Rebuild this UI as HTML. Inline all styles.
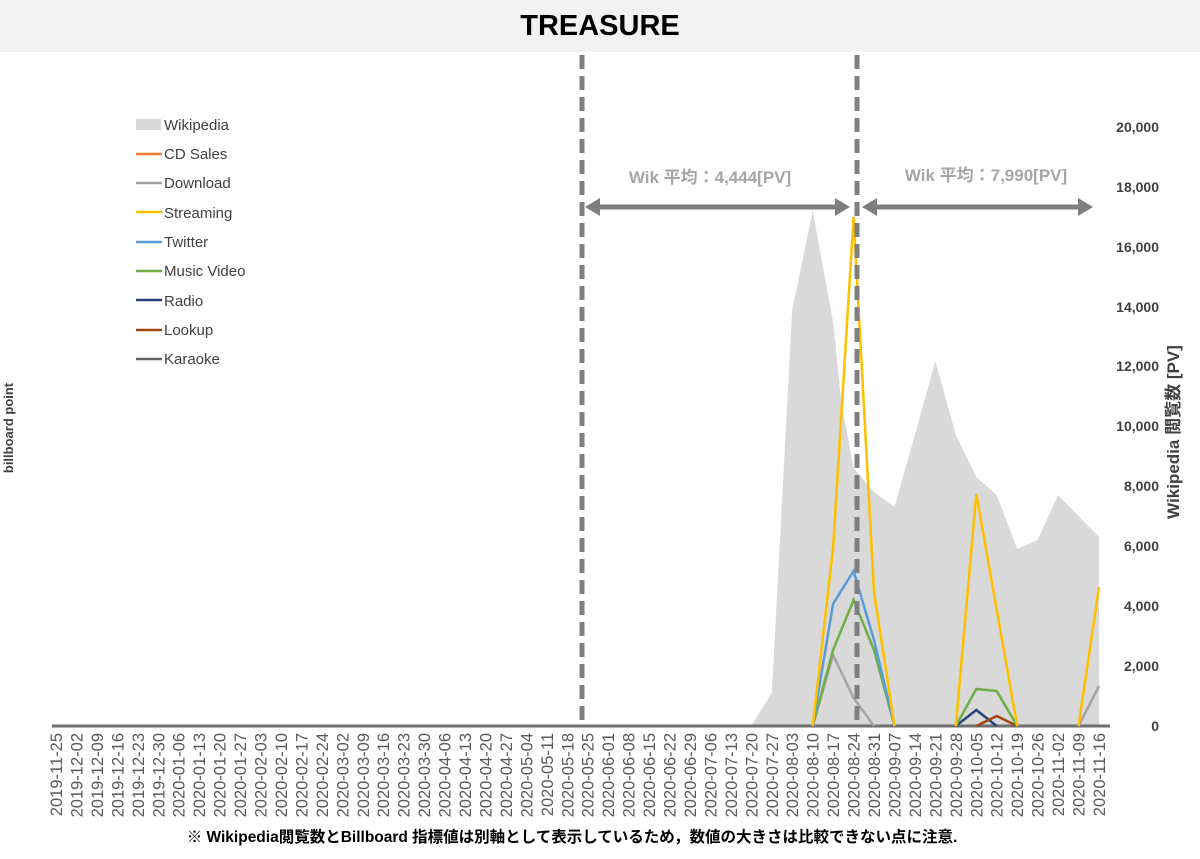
<!DOCTYPE html>
<html><head><meta charset="utf-8"><style>
html,body{margin:0;padding:0;background:#fff;}
svg{display:block;font-family:"Liberation Sans","Noto Sans CJK JP",sans-serif;}
</style></head><body>
<svg width="1200" height="859" viewBox="0 0 1200 859" xmlns="http://www.w3.org/2000/svg">
<rect x="0" y="0" width="1200" height="52" fill="#f2f2f2"/>
<text x="600" y="35" text-anchor="middle" font-size="29" font-weight="bold" fill="#000">TREASURE</text>
<polygon fill="#d9d9d9" points="751.3,726 771.8,693 792.2,310 812.7,211 833.1,322 841,400 853.6,468 874,492 894.5,507 914.9,435 935.4,361 955.8,435 976.3,477 996.7,495 1017.2,549 1037.6,540 1058.1,495 1078.5,516 1099,537 1099,726"/>
<line x1="52" y1="726" x2="1110" y2="726" stroke="#6e6e6e" stroke-width="3"/>
<polyline fill="none" stroke="#a5a5a5" stroke-width="2.5" points="812.7,726 833.1,655 853.6,698 874,726"/>
<polyline fill="none" stroke="#a5a5a5" stroke-width="2.5" points="1078.5,726 1099,686"/>
<polyline fill="none" stroke="#264478" stroke-width="2.5" points="955.8,726 976.3,710 996.7,726"/>
<polyline fill="none" stroke="#9e480e" stroke-width="2.5" points="976.3,726 996.7,716 1017.2,726"/>
<polyline fill="none" stroke="#70ad47" stroke-width="2.5" points="812.7,726 833.1,650 853.6,600 874,650 894.5,726"/>
<polyline fill="none" stroke="#70ad47" stroke-width="2.5" points="955.8,726 976.3,689 996.7,691 1017.2,726"/>
<polyline fill="none" stroke="#5b9bd5" stroke-width="2.5" points="812.7,726 833.1,604 853.6,571 874,640 894.5,726"/>
<polyline fill="none" stroke="#ffc000" stroke-width="2.5" points="812.7,726 833.1,548 853.6,217 874,592 894.5,726"/>
<polyline fill="none" stroke="#ffc000" stroke-width="2.5" points="955.8,726 976.3,494 1017.2,726"/>
<polyline fill="none" stroke="#ffc000" stroke-width="2.5" points="1078.5,726 1099,587"/>
<line x1="582" y1="55" x2="582" y2="726" stroke="#7f7f7f" stroke-width="5" stroke-dasharray="14,7"/>
<line x1="857" y1="55" x2="857" y2="726" stroke="#7f7f7f" stroke-width="5" stroke-dasharray="14,7"/>
<g fill="#7f7f7f" stroke="#7f7f7f">
<line x1="598" y1="207" x2="836" y2="207" stroke-width="5"/>
<polygon points="585,207 600,198 600,216" stroke="none"/>
<polygon points="850,207 835,198 835,216" stroke="none"/>
<line x1="876" y1="207" x2="1079" y2="207" stroke-width="5"/>
<polygon points="862,207 877,198 877,216" stroke="none"/>
<polygon points="1093,207 1078,198 1078,216" stroke="none"/>
</g>
<text x="710" y="183" text-anchor="middle" font-size="17" font-weight="bold" fill="#a6a6a6">Wik 平均：4,444[PV]</text>
<text x="986" y="181" text-anchor="middle" font-size="17" font-weight="bold" fill="#a6a6a6">Wik 平均：7,990[PV]</text>
<g font-size="15" fill="#404040">
<rect x="136" y="119" width="25" height="11" fill="#d9d9d9"/><text x="164" y="130">Wikipedia</text>
<line x1="136" y1="154" x2="162" y2="154" stroke="#ed7d31" stroke-width="2.5"/><text x="164" y="159">CD Sales</text>
<line x1="136" y1="183" x2="162" y2="183" stroke="#a5a5a5" stroke-width="2.5"/><text x="164" y="188">Download</text>
<line x1="136" y1="212" x2="162" y2="212" stroke="#ffc000" stroke-width="2.5"/><text x="164" y="218">Streaming</text>
<line x1="136" y1="242" x2="162" y2="242" stroke="#5b9bd5" stroke-width="2.5"/><text x="164" y="247">Twitter</text>
<line x1="136" y1="271" x2="162" y2="271" stroke="#70ad47" stroke-width="2.5"/><text x="164" y="276">Music Video</text>
<line x1="136" y1="300" x2="162" y2="300" stroke="#264478" stroke-width="2.5"/><text x="164" y="306">Radio</text>
<line x1="136" y1="330" x2="162" y2="330" stroke="#9e480e" stroke-width="2.5"/><text x="164" y="335">Lookup</text>
<line x1="136" y1="359" x2="162" y2="359" stroke="#636363" stroke-width="2.5"/><text x="164" y="364">Karaoke</text>
</g>
<g font-size="14" font-weight="bold" fill="#404040" text-anchor="end">
<text x="1159" y="731">0</text>
<text x="1159" y="671">2,000</text>
<text x="1159" y="611">4,000</text>
<text x="1159" y="551">6,000</text>
<text x="1159" y="491">8,000</text>
<text x="1159" y="431">10,000</text>
<text x="1159" y="371">12,000</text>
<text x="1159" y="312">14,000</text>
<text x="1159" y="252">16,000</text>
<text x="1159" y="192">18,000</text>
<text x="1159" y="132">20,000</text>
</g>
<text transform="translate(1179,432) rotate(-90)" text-anchor="middle" font-size="17" font-weight="bold" fill="#404040">Wikipedia 閲覧数 [PV]</text>
<text transform="translate(13,428) rotate(-90)" text-anchor="middle" font-size="13" font-weight="bold" fill="#404040">billboard point</text>
<g font-size="16.5" fill="#595959" text-anchor="end">
<text transform="translate(62,733) rotate(-90)">2019-11-25</text>
<text transform="translate(82.5,733) rotate(-90)">2019-12-02</text>
<text transform="translate(102.9,733) rotate(-90)">2019-12-09</text>
<text transform="translate(123.4,733) rotate(-90)">2019-12-16</text>
<text transform="translate(143.8,733) rotate(-90)">2019-12-23</text>
<text transform="translate(164.3,733) rotate(-90)">2019-12-30</text>
<text transform="translate(184.7,733) rotate(-90)">2020-01-06</text>
<text transform="translate(205.2,733) rotate(-90)">2020-01-13</text>
<text transform="translate(225.6,733) rotate(-90)">2020-01-20</text>
<text transform="translate(246.1,733) rotate(-90)">2020-01-27</text>
<text transform="translate(266.5,733) rotate(-90)">2020-02-03</text>
<text transform="translate(287,733) rotate(-90)">2020-02-10</text>
<text transform="translate(307.4,733) rotate(-90)">2020-02-17</text>
<text transform="translate(327.9,733) rotate(-90)">2020-02-24</text>
<text transform="translate(348.3,733) rotate(-90)">2020-03-02</text>
<text transform="translate(368.8,733) rotate(-90)">2020-03-09</text>
<text transform="translate(389.2,733) rotate(-90)">2020-03-16</text>
<text transform="translate(409.7,733) rotate(-90)">2020-03-23</text>
<text transform="translate(430.1,733) rotate(-90)">2020-03-30</text>
<text transform="translate(450.6,733) rotate(-90)">2020-04-06</text>
<text transform="translate(471,733) rotate(-90)">2020-04-13</text>
<text transform="translate(491.5,733) rotate(-90)">2020-04-20</text>
<text transform="translate(511.9,733) rotate(-90)">2020-04-27</text>
<text transform="translate(532.4,733) rotate(-90)">2020-05-04</text>
<text transform="translate(552.8,733) rotate(-90)">2020-05-11</text>
<text transform="translate(573.3,733) rotate(-90)">2020-05-18</text>
<text transform="translate(593.7,733) rotate(-90)">2020-05-25</text>
<text transform="translate(614.2,733) rotate(-90)">2020-06-01</text>
<text transform="translate(634.6,733) rotate(-90)">2020-06-08</text>
<text transform="translate(655.1,733) rotate(-90)">2020-06-15</text>
<text transform="translate(675.5,733) rotate(-90)">2020-06-22</text>
<text transform="translate(696,733) rotate(-90)">2020-06-29</text>
<text transform="translate(716.4,733) rotate(-90)">2020-07-06</text>
<text transform="translate(736.9,733) rotate(-90)">2020-07-13</text>
<text transform="translate(757.3,733) rotate(-90)">2020-07-20</text>
<text transform="translate(777.8,733) rotate(-90)">2020-07-27</text>
<text transform="translate(798.2,733) rotate(-90)">2020-08-03</text>
<text transform="translate(818.7,733) rotate(-90)">2020-08-10</text>
<text transform="translate(839.1,733) rotate(-90)">2020-08-17</text>
<text transform="translate(859.6,733) rotate(-90)">2020-08-24</text>
<text transform="translate(880,733) rotate(-90)">2020-08-31</text>
<text transform="translate(900.5,733) rotate(-90)">2020-09-07</text>
<text transform="translate(920.9,733) rotate(-90)">2020-09-14</text>
<text transform="translate(941.4,733) rotate(-90)">2020-09-21</text>
<text transform="translate(961.8,733) rotate(-90)">2020-09-28</text>
<text transform="translate(982.3,733) rotate(-90)">2020-10-05</text>
<text transform="translate(1002.7,733) rotate(-90)">2020-10-12</text>
<text transform="translate(1023.2,733) rotate(-90)">2020-10-19</text>
<text transform="translate(1043.6,733) rotate(-90)">2020-10-26</text>
<text transform="translate(1064.1,733) rotate(-90)">2020-11-02</text>
<text transform="translate(1084.5,733) rotate(-90)">2020-11-09</text>
<text transform="translate(1105,733) rotate(-90)">2020-11-16</text>
</g>
<text x="572" y="842" text-anchor="middle" font-size="15.5" font-weight="bold" fill="#000">※ Wikipedia閲覧数とBillboard 指標値は別軸として表示しているため，数値の大きさは比較できない点に注意.</text>
</svg>
</body></html>
